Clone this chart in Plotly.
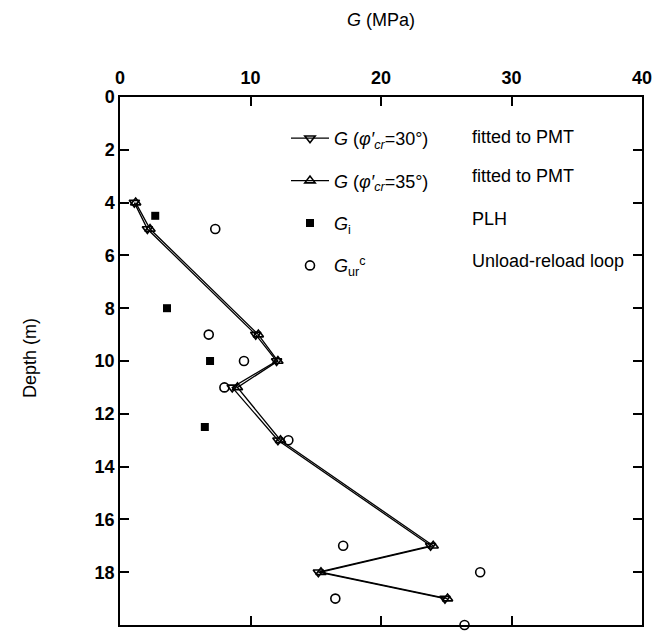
import plotly.graph_objects as go

# ---- data ----
depth_fit = [4, 5, 9, 10, 11, 13, 17, 18, 19]
g_fit_30 = [1.1, 2.1, 10.4, 12.0, 8.6, 12.1, 23.8, 15.2, 24.9]
g_fit_35 = [1.2, 2.3, 10.6, 12.1, 9.0, 12.3, 24.0, 15.4, 25.1]

depth_gi = [4.5, 8, 10, 12.5]
g_i = [2.7, 3.6, 6.9, 6.5]

depth_gur = [5, 9, 10, 11, 13, 17, 18, 19, 20]
g_ur = [7.3, 6.8, 9.5, 8.0, 12.9, 17.1, 27.6, 16.5, 26.4]

x_ticks = [0, 10, 20, 30, 40]
y_ticks = [0, 2, 4, 6, 8, 10, 12, 14, 16, 18, 20]

legend_names = [
    "<i>G</i> (<i>φ′</i><sub><i>cr</i></sub>=30°)",
    "<i>G</i> (<i>φ′</i><sub><i>cr</i></sub>=35°)",
    "<i>G</i><sub>i</sub>",
    "<i>G</i><sub>ur</sub><sup>c</sup>",
]
legend_notes = ["fitted to PMT", "fitted to PMT", "PLH", "Unload-reload loop"]

# ---- layout geometry (pixels) ----
W, H = 658, 631
L, R, T, B = 120, 642, 97, 625
FONT = "Liberation Sans, Arial, sans-serif"


def px_x(p):
    return (p - L) / (R - L)


def px_y(p):
    return (B - p) / (B - T)


fig = go.Figure()
fig.add_trace(go.Scatter(
    x=g_fit_30, y=depth_fit, mode="lines+markers", name=legend_names[0],
    legendgroup="a",
    line=dict(color="black", width=1.3),
    marker=dict(symbol="triangle-down-open", size=9, color="black", line=dict(width=1.6)),
    cliponaxis=False))
fig.add_trace(go.Scatter(
    x=g_fit_35, y=depth_fit, mode="lines+markers", name=legend_names[1],
    legendgroup="b",
    line=dict(color="black", width=1.3),
    marker=dict(symbol="triangle-up-open", size=9, color="black", line=dict(width=1.6)),
    cliponaxis=False))
fig.add_trace(go.Scatter(
    x=g_i, y=depth_gi, mode="markers", name=legend_names[2], legendgroup="c",
    marker=dict(symbol="square", size=8, color="black"),
    cliponaxis=False))
fig.add_trace(go.Scatter(
    x=g_ur, y=depth_gur, mode="markers", name=legend_names[3], legendgroup="d",
    marker=dict(symbol="circle-open", size=9, color="black", line=dict(width=1.6)),
    cliponaxis=False))

axis_common = dict(
    showline=True, linecolor="black", linewidth=1.5, mirror="ticks",
    ticks="inside", ticklen=9, tickwidth=1.5, tickcolor="black",
    showgrid=False, zeroline=False,
    tickfont=dict(family=FONT, size=18, color="black", weight="bold"),
)
fig.update_xaxes(range=[0, 40], side="top", tickvals=x_ticks, ticklabelstandoff=4, **axis_common)
fig.update_yaxes(range=[20, 0], tickvals=y_ticks, **axis_common)

rows = [137, 176, 219, 261]
annotations = [
    dict(text="<i>G</i> (MPa)", x=0.5, y=px_y(20), xref="paper", yref="paper",
         xanchor="center", yanchor="middle",
         showarrow=False, font=dict(family=FONT, size=18, color="black")),
    dict(text="Depth (m)", x=px_x(30), y=px_y(358), xref="paper", yref="paper",
         xanchor="center", yanchor="middle",
         textangle=-90, showarrow=False, font=dict(family=FONT, size=18, color="black")),
]
for note, ry in zip(legend_notes, rows):
    annotations.append(dict(text=note, x=px_x(470), y=px_y(ry), xref="paper", yref="paper",
                            xanchor="left", yanchor="middle", showarrow=False,
                            font=dict(family=FONT, size=18, color="black")))

fig.update_layout(
    width=W, height=H,
    margin=dict(l=L, r=W - R, t=T, b=H - B, autoexpand=False),
    paper_bgcolor="white", plot_bgcolor="white",
    showlegend=True,
    legend=dict(x=px_x(286), y=px_y(120), xanchor="left", yanchor="top",
                bgcolor="rgba(0,0,0,0)", borderwidth=0, tracegroupgap=16,
                itemwidth=38,
                font=dict(family=FONT, size=18, color="black")),
    annotations=annotations,
)

fig.write_html("out.html", config={"displayModeBar": False},
               post_script="document.body.style.margin='0';")
